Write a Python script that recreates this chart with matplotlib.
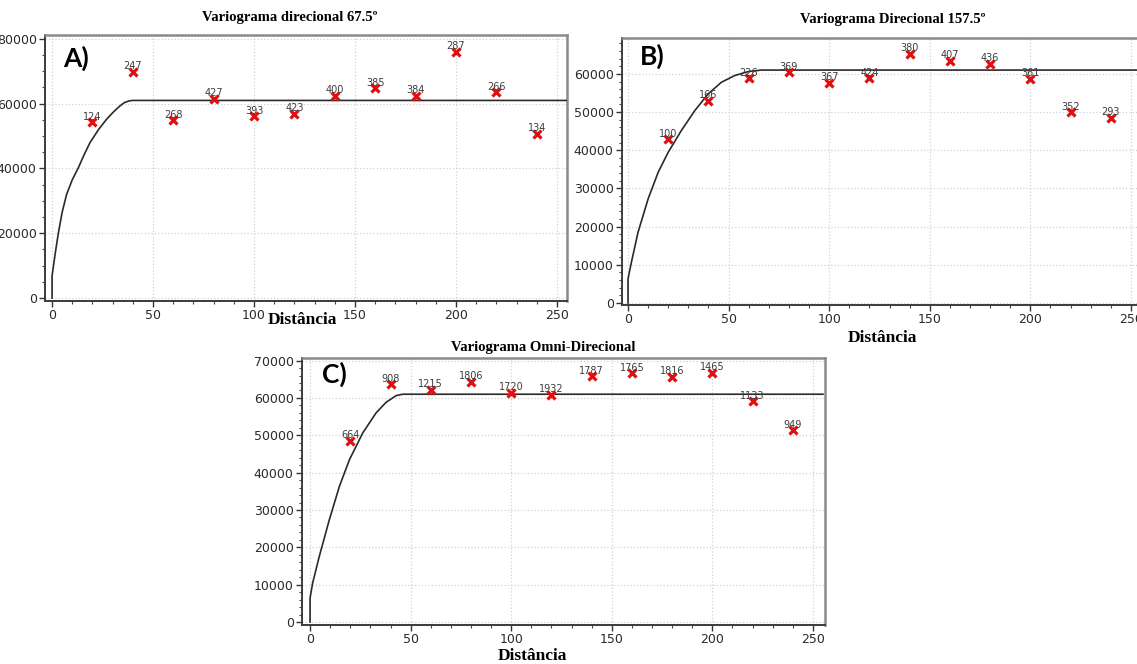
import numpy as np
import matplotlib.pyplot as plt
from matplotlib.ticker import MultipleLocator

W, H = 1137, 664

# lag distances (same for all three panels)
lags = [20, 40, 60, 80, 100, 120, 140, 160, 180, 200, 220, 240]

# A) variograma direcional 67.5
gamma_a = [54220, 69890, 54840, 61550, 56080, 56910, 62470, 64730, 62470, 76070, 63490, 50730]
pairs_a = [124, 247, 268, 427, 393, 423, 400, 385, 384, 287, 266, 134]
model_a_x = [0, 0, 1.5, 3.1, 5, 7.2, 10, 13, 16, 18.8, 23, 27, 30.5, 33.6, 36, 38.5, 40, 255]
model_a_y = [0, 6800, 13500, 20000, 26500, 32000, 36500, 40200, 44400, 48000, 52000, 55200,
             57500, 59300, 60400, 60900, 61000, 61000]

# B) variograma direcional 157.5
gamma_b = [42840, 53010, 58800, 60440, 57630, 58830, 65190, 63440, 62580, 58670, 49960, 48500]
pairs_b = [100, 166, 226, 369, 367, 424, 380, 407, 436, 361, 352, 293]
model_b_x = [0, 0, 1.7, 5, 10, 15, 20, 26.5, 33.2, 39.8, 46.4, 53, 59.7, 66.3, 68, 257]
model_b_y = [0, 6360, 10720, 18570, 27290, 34260, 39500, 45160, 50390, 54750, 57800, 59560,
             60600, 61000, 61000, 61000]

# C) omni-direcional
gamma_c = [48490, 63670, 62250, 64390, 61340, 60810, 65820, 66620, 65630, 66800, 59120, 51350]
pairs_c = [664, 908, 1215, 1806, 1720, 1932, 1787, 1765, 1816, 1465, 1133, 949]
model_c_x = [0, 0, 1.3, 4.6, 9.6, 14.6, 19.6, 26.2, 32.8, 37.8, 42.8, 46.1, 48, 255]
model_c_y = [0, 6430, 10450, 17590, 27410, 36340, 43480, 50630, 55980, 58840, 60630, 61000,
             61000, 61000]


def box(l, t, r, b):
    return [l / W, 1 - b / H, (r - l) / W, (b - t) / H]


def panel(ax, xs, ys, labels, mx, my, xlim, ylim, ymajor, yminor):
    ax.set_xlim(*xlim)
    ax.set_ylim(*ylim)
    ax.xaxis.set_major_locator(MultipleLocator(50))
    ax.xaxis.set_minor_locator(MultipleLocator(10))
    ax.yaxis.set_major_locator(MultipleLocator(ymajor))
    ax.yaxis.set_minor_locator(MultipleLocator(yminor))
    ax.grid(True, which='major', color='#d2d2d2', linestyle=':', linewidth=0.9)
    ax.set_axisbelow(True)
    for s in ['top', 'right']:
        ax.spines[s].set_color('#8a8a8a')
        ax.spines[s].set_linewidth(1.8)
    for s in ['left', 'bottom']:
        ax.spines[s].set_color('#3a3a3a')
        ax.spines[s].set_linewidth(1.4)
    ax.tick_params(which='major', direction='out', length=4, width=1, color='#333333',
                   labelsize=9, labelcolor='#2a2a2a', pad=2)
    ax.tick_params(which='minor', direction='out', length=2.5, width=0.8, color='#444444')
    ax.plot(mx, my, color='#2a2a2a', linewidth=1.2, zorder=3)
    ax.plot(xs, ys, linestyle='none', marker='x', markersize=5.5, markeredgewidth=2.3,
            color='#e01010', zorder=4)
    for x, y, n in zip(xs, ys, labels):
        ax.annotate(str(n), (x, y), xytext=(0, 0.5), textcoords='offset points',
                    ha='center', va='bottom', fontsize=7, color='#3c3c3c', zorder=5)


fig = plt.figure(figsize=(W / 100, H / 100), dpi=100)
fig.patch.set_facecolor('white')

ax_a = fig.add_axes(box(45, 35, 567, 301))
panel(ax_a, lags, gamma_a, pairs_a, model_a_x, model_a_y, (-3.5, 255), (-920, 81200), 20000, 5000)

ax_b = fig.add_axes(box(622, 38, 1144, 305))
panel(ax_b, lags, gamma_b, pairs_b, model_b_x, model_b_y, (-3, 256.5), (-530, 69400), 10000, 2000)

ax_c = fig.add_axes(box(302, 358, 825, 625))
panel(ax_c, lags, gamma_c, pairs_c, model_c_x, model_c_y, (-4, 256), (-800, 70700), 10000, 2000)

serif = ['Liberation Serif', 'DejaVu Serif']
tkw = dict(ha='center', va='center', fontsize=10.5, fontweight='bold', family=serif)
fig.text(290 / W, 1 - 18 / H, 'Variograma direcional 67.5º', **tkw)
fig.text(893 / W, 1 - 20 / H, 'Variograma Direcional 157.5º', **tkw)
fig.text(543 / W, 1 - 348 / H, 'Variograma Omni-Direcional', **tkw)

dkw = dict(ha='center', va='center', fontsize=12.5, fontweight='bold', family=serif)
fig.text(302 / W, 1 - 320 / H, 'Distância', **dkw)
fig.text(882 / W, 1 - 338 / H, 'Distância', **dkw)
fig.text(532 / W, 1 - 656 / H, 'Distância', **dkw)

lkw = dict(ha='left', va='center', fontsize=19, fontweight='bold', family=['Lato', 'DejaVu Sans'])
fig.text(63 / W, 1 - 58 / H, 'A)', **lkw)
fig.text(640 / W, 1 - 56 / H, 'B)', **lkw)
fig.text(322 / W, 1 - 374 / H, 'C)', **lkw)

fig.savefig('out.png', dpi=100)
